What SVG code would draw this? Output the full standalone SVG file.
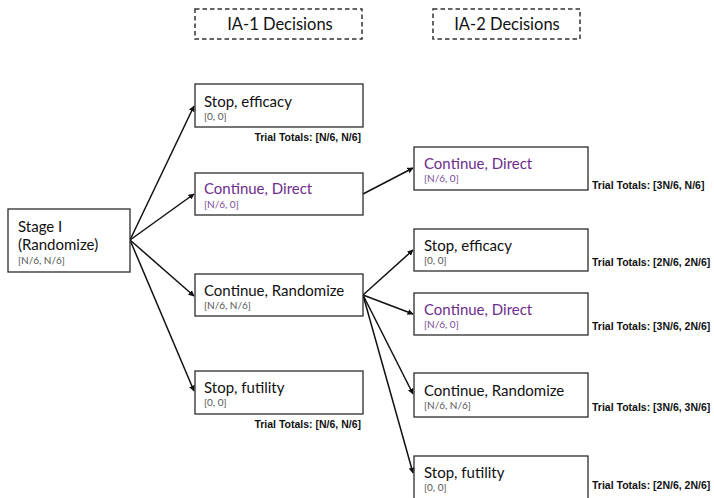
<svg xmlns="http://www.w3.org/2000/svg" width="714" height="498" viewBox="0 0 714 498">
<defs>
<style>
.box{fill:#fff;stroke:#2b2b2b;stroke-width:1.3}
.hdr{fill:#fff;stroke:#333;stroke-width:1.5;stroke-dasharray:4.5 3}
.h{font-family:Lato,"Open Sans",sans-serif;font-size:16.5px;fill:#111}
.t{font-family:Lato,"Open Sans",sans-serif;font-size:15px;fill:#111}
.p{fill:#6e2c8c}
.s{font-family:Lato,"Open Sans",sans-serif;font-size:10px;fill:#555}
.sp{fill:#7a4a96}
.tt{font-family:"Liberation Sans",Arial,sans-serif;font-size:10.5px;font-weight:bold;fill:#111}
.c{fill:none;stroke:#111;stroke-width:1.5;marker-end:url(#ah)}
</style>
<marker id="ah" viewBox="0 0 10 10" refX="9" refY="5" markerWidth="6" markerHeight="6" orient="auto" markerUnits="userSpaceOnUse">
<path d="M0,0 L10,5 L0,10 z" fill="#111"/>
</marker>
</defs>

<g id="hdr1"><rect class="hdr" x="195" y="9" width="167" height="30"/><text class="h" x="280" y="30" text-anchor="middle">IA-1 Decisions</text></g>
<g id="hdr2"><rect class="hdr" x="433" y="9" width="147" height="30"/><text class="h" x="507" y="30" text-anchor="middle">IA-2 Decisions</text></g>

<g id="connectors">
<line class="c" x1="130" y1="240" x2="194" y2="106"/>
<line class="c" x1="130" y1="240" x2="194" y2="194"/>
<line class="c" x1="130" y1="240" x2="194" y2="296"/>
<line class="c" x1="130" y1="240" x2="194" y2="391"/>
<line class="c" x1="363" y1="194" x2="413" y2="168"/>
<line class="c" x1="363" y1="295" x2="413" y2="250"/>
<line class="c" x1="363" y1="295" x2="413" y2="314"/>
<line class="c" x1="363" y1="295" x2="413" y2="394"/>
<line class="c" x1="363" y1="295" x2="413" y2="473"/>
</g>

<g id="stage1"><rect class="box" x="8" y="209" width="122" height="63"/>
<text class="t" x="18" y="232">Stage I</text><text class="t" x="18" y="250">(Randomize)</text><text class="s" x="18" y="264">[N/6, N/6]</text></g>

<g id="ia1-eff"><rect class="box" x="195" y="84" width="168" height="43"/>
<text class="t" x="204" y="107">Stop, efficacy</text><text class="s" x="204" y="120">[0, 0]</text>
<text class="tt" x="361" y="141" text-anchor="end">Trial Totals: [N/6, N/6]</text></g>

<g id="ia1-dir"><rect class="box" x="195" y="173" width="168" height="42"/>
<text class="t p" x="204" y="194">Continue, Direct</text><text class="s sp" x="204" y="208">[N/6, 0]</text></g>

<g id="ia1-rand"><rect class="box" x="195" y="274" width="168" height="42"/>
<text class="t" x="204" y="296">Continue, Randomize</text><text class="s" x="204" y="309">[N/6, N/6]</text></g>

<g id="ia1-fut"><rect class="box" x="195" y="371" width="168" height="43"/>
<text class="t" x="204" y="393">Stop, futility</text><text class="s" x="204" y="406">[0, 0]</text>
<text class="tt" x="361" y="428" text-anchor="end">Trial Totals: [N/6, N/6]</text></g>

<g id="ia2-dir1"><rect class="box" x="414" y="147" width="174" height="43"/>
<text class="t p" x="424" y="169">Continue, Direct</text><text class="s sp" x="424" y="182">[N/6, 0]</text>
<text class="tt" x="592" y="189">Trial Totals: [3N/6, N/6]</text></g>

<g id="ia2-eff"><rect class="box" x="414" y="229" width="174" height="42"/>
<text class="t" x="424" y="251">Stop, efficacy</text><text class="s" x="424" y="264">[0, 0]</text>
<text class="tt" x="592" y="266">Trial Totals: [2N/6, 2N/6]</text></g>

<g id="ia2-dir2"><rect class="box" x="414" y="293" width="174" height="42"/>
<text class="t p" x="424" y="315">Continue, Direct</text><text class="s sp" x="424" y="328">[N/6, 0]</text>
<text class="tt" x="592" y="330">Trial Totals: [3N/6, 2N/6]</text></g>

<g id="ia2-rand"><rect class="box" x="414" y="373" width="174" height="44"/>
<text class="t" x="424" y="396">Continue, Randomize</text><text class="s" x="424" y="409">[N/6, N/6]</text>
<text class="tt" x="592" y="411">Trial Totals: [3N/6, 3N/6]</text></g>

<g id="ia2-fut"><rect class="box" x="414" y="456" width="174" height="46"/>
<text class="t" x="424" y="478">Stop, futility</text><text class="s" x="424" y="491">[0, 0]</text>
<text class="tt" x="592" y="489">Trial Totals: [2N/6, 2N/6]</text></g>
</svg>
